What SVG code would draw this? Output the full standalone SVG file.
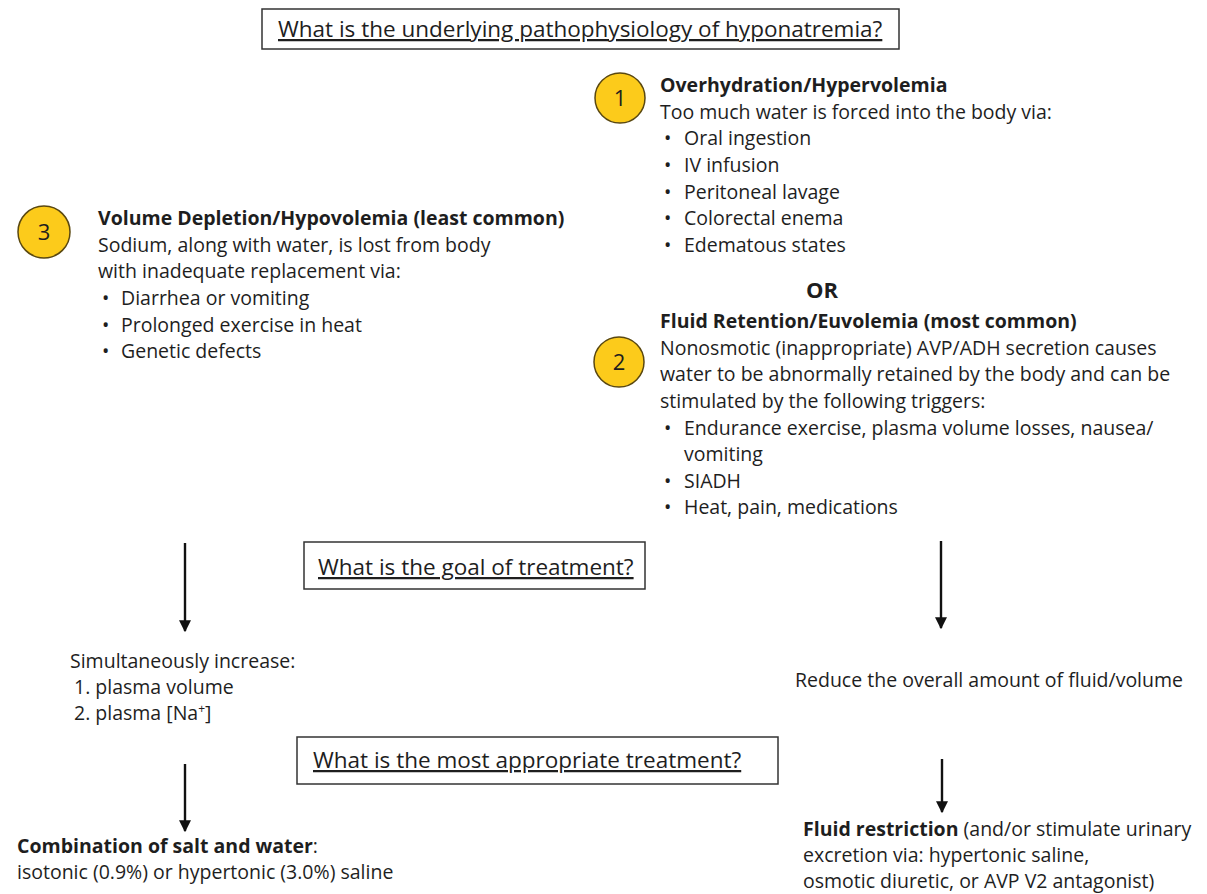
<svg xmlns="http://www.w3.org/2000/svg" width="1207" height="894" viewBox="0 0 1207 894">
<style>
text{font-family:"Open Sans","Liberation Sans",sans-serif;font-size:19.5px;fill:#1e1e1e}
.b{font-weight:bold}
.u{text-decoration:underline}
.q{font-size:22.5px}
.box{fill:#fff;stroke:#333;stroke-width:1.5}
.c{fill:#FCCB1B;stroke:#5a4810;stroke-width:1.5}
.n{font-size:22px;text-anchor:middle}
.arr{stroke:#111;stroke-width:2.4;fill:none;marker-end:url(#ah)}
</style>
<defs>
<marker id="ah" viewBox="0 0 10 10" refX="9" refY="5" markerWidth="5" markerHeight="5" orient="auto" markerUnits="strokeWidth">
<path d="M0,0 L10,5 L0,10 z" fill="#111"/>
</marker>
</defs>
<rect width="1207" height="894" fill="#fff"/>

<g id="q1">
<rect class="box" x="262" y="9" width="637" height="40"/>
<text class="q u" x="278" y="37">What is the underlying pathophysiology of hyponatremia?</text>
</g>

<g id="n1">
<circle class="c" cx="620" cy="98" r="25"/>
<text class="n" x="620" y="106">1</text>
<text class="b" x="660" y="92">Overhydration/Hypervolemia</text>
<text x="660" y="119">Too much water is forced into the body via:</text>
<text x="664" y="145">•</text><text x="684" y="145">Oral ingestion</text>
<text x="664" y="172">•</text><text x="684" y="172">IV infusion</text>
<text x="664" y="199">•</text><text x="684" y="199">Peritoneal lavage</text>
<text x="664" y="225">•</text><text x="684" y="225">Colorectal enema</text>
<text x="664" y="252">•</text><text x="684" y="252">Edematous states</text>
</g>

<g id="or">
<text class="b" x="822" y="298" style="font-size:22px" text-anchor="middle">OR</text>
</g>

<g id="n3">
<circle class="c" cx="44" cy="232" r="26"/>
<text class="n" x="44" y="240">3</text>
<text class="b" x="98" y="225">Volume Depletion/Hypovolemia (least common)</text>
<text x="98" y="252">Sodium, along with water, is lost from body</text>
<text x="98" y="278"> with inadequate replacement via:</text>
<text x="102" y="305">•</text><text x="121" y="305">Diarrhea or vomiting</text>
<text x="102" y="332">•</text><text x="121" y="332">Prolonged exercise in heat</text>
<text x="102" y="358">•</text><text x="121" y="358">Genetic defects</text>
</g>

<g id="n2">
<circle class="c" cx="619" cy="362" r="25"/>
<text class="n" x="619" y="370">2</text>
<text class="b" x="660" y="328">Fluid Retention/Euvolemia (most common)</text>
<text x="660" y="355">Nonosmotic (inappropriate) AVP/ADH secretion causes</text>
<text x="660" y="381">water to be abnormally retained by the body and can be</text>
<text x="660" y="408">stimulated by the following triggers:</text>
<text x="664" y="435">•</text><text x="684" y="435">Endurance exercise, plasma volume losses, nausea/</text>
<text x="684" y="461">vomiting</text>
<text x="664" y="488">•</text><text x="684" y="488">SIADH</text>
<text x="664" y="514">•</text><text x="684" y="514">Heat, pain, medications</text>
</g>

<g id="q2">
<rect class="box" x="304" y="542" width="341" height="47"/>
<text class="q u" x="318" y="575">What is the goal of treatment?</text>
</g>

<g id="goalLeft">
<text x="70" y="668">Simultaneously increase:</text>
<text x="74" y="694">1. plasma volume</text>
<text x="74" y="720">2. plasma [Na<tspan dy="-7" style="font-size:12px">+</tspan><tspan dy="7">]</tspan></text>
</g>

<g id="goalRight">
<text x="795" y="687">Reduce the overall amount of fluid/volume</text>
</g>

<g id="q3">
<rect class="box" x="297" y="737" width="481" height="47"/>
<text class="q u" x="313" y="768">What is the most appropriate treatment?</text>
</g>

<g id="treatLeft">
<text class="b" x="17" y="853">Combination of salt and water<tspan style="font-weight:normal">:</tspan></text>
<text x="17" y="879"> isotonic (0.9%) or hypertonic (3.0%) saline</text>
</g>

<g id="treatRight">
<text x="803" y="836"><tspan class="b">Fluid restriction</tspan> (and/or stimulate urinary</text>
<text x="803" y="862">excretion via: hypertonic saline,</text>
<text x="803" y="888">osmotic diuretic, or AVP V2 antagonist)</text>
</g>

<g id="connectors">
<line class="arr" x1="185" y1="543" x2="185" y2="631"/>
<line class="arr" x1="941" y1="541" x2="941" y2="628"/>
<line class="arr" x1="185" y1="764" x2="185" y2="831"/>
<line class="arr" x1="942" y1="759" x2="942" y2="812"/>
</g>
</svg>
